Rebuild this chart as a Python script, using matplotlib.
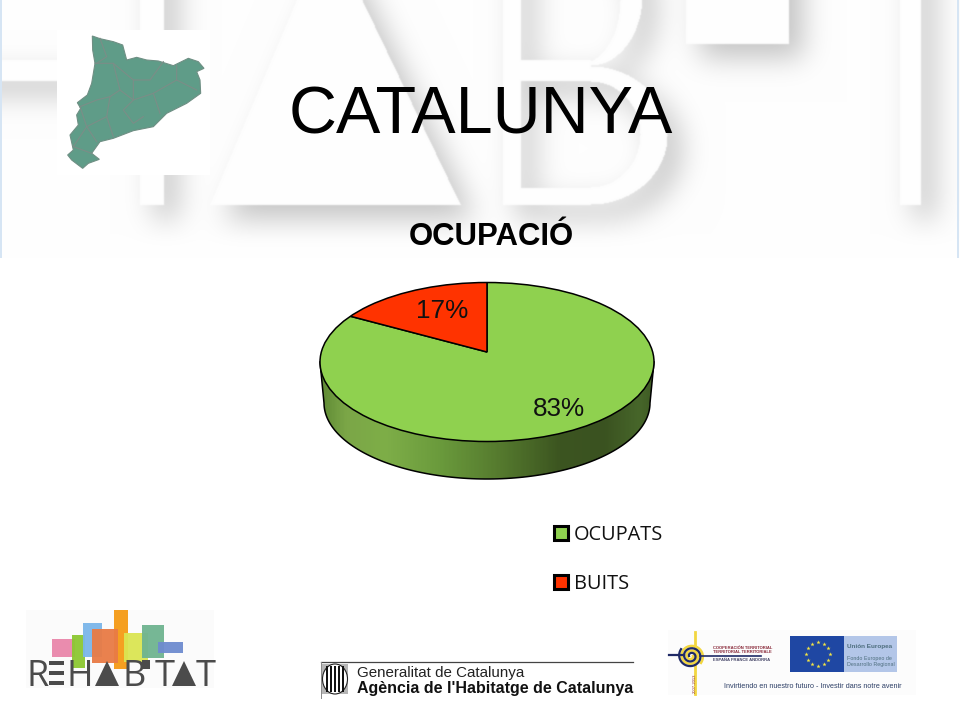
import numpy as np
import matplotlib
matplotlib.use("Agg")
import matplotlib.pyplot as plt
from matplotlib.patches import Rectangle, Polygon, Circle, Patch, PathPatch, Ellipse
from matplotlib.path import Path
from matplotlib.colors import LinearSegmentedColormap

# ---- chart data ----
categories = ["OCUPATS", "BUITS"]
values = [83, 17]
colors = ["#8fd14f", "#ff3300"]
title = "CATALUNYA"
subtitle = "OCUPACIÓ"

SANS = "Liberation Sans"
W, H = 960, 720
fig = plt.figure(figsize=(9.6, 7.2), dpi=100, facecolor="white")

# ---- page in pixel coordinates ----
bg = fig.add_axes([0, 0, 1, 1], zorder=0)


def gauss_blur(a, sigma):
    r = int(3 * sigma)
    k = np.exp(-0.5 * (np.arange(-r, r + 1) / sigma) ** 2)
    k /= k.sum()
    a = np.apply_along_axis(lambda v: np.convolve(v, k, mode="same"), 0, a)
    a = np.apply_along_axis(lambda v: np.convolve(v, k, mode="same"), 1, a)
    return a


def watermark():
    pad = 100
    yy, xx = np.mgrid[-pad:258 + pad, -pad:960 + pad].astype(float)
    m = np.zeros_like(xx, bool)
    # H
    m |= (xx >= 140) & (xx <= 163) & (yy <= 204)
    m |= (xx <= 140) & (yy >= 60) & (yy <= 80)
    # A
    left = 293 - (yy - 8) * (83 / 196)
    right = 362 + yy * (98 / 204)
    m |= (xx >= left) & (xx <= right) & (yy <= 204)
    # B
    b_up = ((xx >= 503) & (xx <= 590) & (yy <= 65)) | (((xx - 590) / 52) ** 2 + ((yy + 5) / 70) ** 2 <= 1)
    b_lo = ((xx >= 503) & (xx <= 590) & (yy >= 60) & (yy <= 204)) | (((xx - 590) / 77) ** 2 + ((yy - 135) / 69) ** 2 <= 1)
    c_up = ((xx >= 521) & (xx <= 580) & (yy <= 63)) | (((xx - 580) / 40) ** 2 + (yy / 63) ** 2 <= 1)
    c_lo = ((xx >= 521) & (xx <= 590) & (yy >= 81) & (yy <= 187)) | (((xx - 590) / 50) ** 2 + ((yy - 134) / 53) ** 2 <= 1)
    m |= (b_up & ~c_up) | (b_lo & ~c_lo)
    # T bar and I
    m |= (xx >= 686) & (xx <= 788) & (yy <= 43)
    m |= (xx >= 900) & (xx <= 920) & (yy <= 204)
    dark = gauss_blur(np.roll(np.roll(m.astype(float), 14, axis=0), 14, axis=1), 14)
    img = 254 - 58 * dark
    img[m] = 254
    img = gauss_blur(img, 0.7)
    img = img[pad:258 + pad, pad:960 + pad]
    # fade out towards the lower edge
    fade = np.clip((258 - np.arange(258)) / 25, 0, 1)[:, None]
    img = 255 - (255 - img) * fade
    rgb = np.dstack([img, img, img]) / 255
    rgb[:, 0:2] = [0.84, 0.90, 0.96]
    rgb[:, 957:959] = [0.84, 0.90, 0.96]
    return rgb


bg.imshow(watermark(), extent=(0, 960, 258, 0), aspect="auto", interpolation="bilinear", zorder=0)
bg.set_xlim(0, W)
bg.set_ylim(H, 0)
bg.axis("off")

bg.text(481, 133, title, family=SANS, fontsize=47.9, ha="center", va="baseline", color="black", zorder=5)
bg.text(491, 245, subtitle, family=SANS, fontsize=22.4, fontweight="bold", ha="center", va="baseline", color="black", zorder=5)

# ---- map of Catalonia (decoration) ----
bg.add_patch(Rectangle((57, 30), 153, 145, fc="white", ec="none", zorder=1))
map_outline = [(277, 108), (300, 116), (340, 125), (368, 135), (380, 180), (410, 172), (440, 180), (475, 183),
               (520, 197), (565, 175), (595, 185), (612, 205), (590, 215), (600, 240), (602, 280), (560, 310),
               (500, 340), (460, 380), (400, 392), (340, 415), (300, 425), (275, 460), (298, 478), (265, 490),
               (248, 505), (215, 480), (203, 465), (220, 450), (210, 405), (235, 375), (230, 345), (242, 325),
               (232, 308), (262, 285), (275, 250), (285, 190), (278, 150)]
bg.add_patch(Polygon([(x / 3, y / 3) for x, y in map_outline], fc="#5f9c88", ec="#6f8f84", lw=0.8, zorder=2))
map_borders = [
    [(285, 190), (340, 190), (360, 270), (330, 290), (290, 300), (240, 320)],
    [(340, 190), (400, 240), (450, 240), (490, 185)],
    [(360, 270), (400, 300), (460, 280), (530, 240), (530, 197)],
    [(530, 240), (590, 270)],
    [(400, 240), (400, 300), (370, 330), (400, 370), (430, 350)],
    [(460, 280), (480, 340)],
    [(330, 290), (320, 350), (260, 380), (290, 425)],
    [(320, 350), (340, 410)],
    [(240, 320), (260, 380), (220, 440), (275, 460)],
    [(300, 115), (320, 170), (290, 190)],
]
for seg in map_borders:
    bg.plot([p[0] / 3 for p in seg], [p[1] / 3 for p in seg], color="#7c8d87", lw=0.8, zorder=3)

# ---- rehabitat logo (decoration) ----
logo_rects = [(112, 117, 68, 53, "#ea86aa"), (170, 105, 40, 100, "#8cc832"), (204, 70, 58, 100, "#7ab6ea"),
              (298, 30, 42, 178, "#f59a15"), (232, 88, 78, 100, "#e97b45"), (328, 100, 70, 85, "#dbe552"),
              (380, 74, 68, 101, "#6fb490"), (428, 126, 75, 34, "#6e8bcf")]
bg.add_patch(Rectangle((26, 610), 188, 78, fc="#fbfbfb", ec="none", zorder=1))
for x, y, w, h, c in logo_rects:
    bg.add_patch(Rectangle((15 + x / 3, 600 + y / 3), w / 3, h / 3, fc=c, ec="none", alpha=0.95, zorder=2))
LOGO_GRAY = "#4b4b4b"
for ch, x in [("R", 26), ("H", 66), ("B", 123), ("T", 155), ("T", 196)]:
    bg.text(x, 686, ch, family="Open Sans", fontsize=26, color=LOGO_GRAY, va="baseline", ha="left", zorder=4)
for y in (661, 671, 681):
    bg.add_patch(Rectangle((49, y), 15, 4, fc=LOGO_GRAY, ec="none", zorder=4))
for x0, x1 in ((95, 119), (172, 196)):
    bg.add_patch(Polygon([(x0, 686), (x1, 686), ((x0 + x1) / 2, 661)], fc=LOGO_GRAY, ec="none", zorder=4))
bg.add_patch(Rectangle((142, 660), 8, 9, fc=LOGO_GRAY, ec="none", zorder=4))

# ---- Generalitat logo (decoration) ----
bg.plot([321, 633], [662, 662], color="#444444", lw=0.9, zorder=3)
bg.plot([321, 321], [662, 698], color="#888888", lw=0.7, zorder=3)
bg.add_patch(Rectangle((322, 664), 26, 30, fc="#b5b5b5", ec="none", zorder=3))
bg.add_patch(Ellipse((335, 679), 25, 30, fc="white", ec="#222222", lw=0.8, zorder=4))
for x in (327, 331, 335, 339, 343):
    bg.add_patch(Rectangle((x - 1.2, 666), 2.4, 26, fc="#111111", ec="none", zorder=5))
bg.text(357, 677, "Generalitat de Catalunya", family=SANS, fontsize=10.9, color="#222222", va="baseline", zorder=4)
bg.text(357, 693, "Agència de l'Habitatge de Catalunya", family=SANS, fontsize=11.5, fontweight="bold",
        color="#111111", va="baseline", zorder=4)

# ---- EU logos (decoration) ----
bg.add_patch(Rectangle((668, 630), 248, 65, fc="#fcfcfc", ec="none", zorder=1))
bg.plot([695, 695], [632, 694], color="#f2d640", lw=2, zorder=3)
t = np.linspace(0, 4.2 * np.pi, 200)
r = 2 + 1.25 * t / 1.6
bg.plot(691 + r * np.cos(t), 656 + r * np.sin(t) * 0.95, color="#f2d640", lw=1.8, zorder=4)
bg.plot(691 - r * np.cos(t), 656 - r * np.sin(t) * 0.95, color="#1f2a66", lw=1.6, zorder=4)
bg.plot([669, 684], [655, 655], color="#1f2a66", lw=1.6, zorder=4)
bg.plot([700, 761], [656, 656], color="#1f2a66", lw=1.2, zorder=4)
bg.text(713, 649, "COOPERACIÓN TERRITORIAL", family=SANS, fontsize=3, fontweight="bold", color="#8a2a3a", zorder=4)
bg.text(713, 653, "TERRITORIAL TERRITORIALE", family=SANS, fontsize=3, fontweight="bold", color="#8a2a3a", zorder=4)
bg.text(713, 661, "ESPAÑA FRANCE ANDORRA", family=SANS, fontsize=3, fontweight="bold", color="#444466", zorder=4)
bg.text(695, 693, "2007-2013", family=SANS, fontsize=3, rotation=90, color="#8a2a3a", ha="center", va="bottom", zorder=4)
bg.add_patch(Rectangle((790, 636), 54, 36, fc="#1f47a3", ec="none", zorder=3))
bg.add_patch(Rectangle((844, 636), 53, 36, fc="#b3c6e8", ec="none", zorder=3))
ang = np.arange(12) * np.pi / 6
bg.plot(818 + 12 * np.cos(ang), 654 + 12 * np.sin(ang), ls="none", marker="*", ms=3.2, color="#f5e642", mew=0, zorder=4)
bg.text(847, 648, "Unión Europea", family=SANS, fontsize=4.6, fontweight="bold", color="#4f6f7f", va="baseline", zorder=4)
bg.text(847, 660, "Fondo Europeo de", family=SANS, fontsize=3.9, color="#4f6f7f", va="baseline", zorder=4)
bg.text(847, 666, "Desarrollo Regional", family=SANS, fontsize=3.9, color="#4f6f7f", va="baseline", zorder=4)
bg.text(724, 688, "Invirtiendo en nuestro futuro - Investir dans notre avenir", family=SANS, fontsize=5.2,
        color="#2d3f66", va="baseline", zorder=4)

# ---- 3D pie ----
CX, CY, RX, RY = 487, 362, 167, 79.5   # top face in pixels
APEX_Y = 352
px0, px1, py0, py1 = 300, 670, 270, 490
ax = fig.add_axes([px0 / W, 1 - py1 / H, (px1 - px0) / W, (py1 - py0) / H], zorder=2)
ax.patch.set_alpha(0)


def dx(px):
    return (px - CX) / RX


def dy(py):
    return (CY - py) / RY


wedges, _ = ax.pie(values, colors=colors, startangle=90, counterclock=False, radius=1.5,
                   center=(0, dy(APEX_Y)), wedgeprops=dict(edgecolor="black", linewidth=1.1), frame=False)
ax.set_aspect("auto")
ax.set_xlim(dx(px0), dx(px1))
ax.set_ylim(dy(py1), dy(py0))
ax.axis("off")

# top face: wedges cut by the ellipse of the rim
top = Circle((0, 0), 1, transform=ax.transData)
for w_ in wedges:
    w_.set_clip_on(True)
    w_.set_clip_path(top)
    w_.set_zorder(3)
ax.add_patch(Circle((0, 0), 1, fc="none", ec="black", lw=1.1, zorder=4))

# side wall with horizontal shading
b_cy, b_rx, b_ry = dy(403), 163 / RX, 76 / RY
th = np.linspace(np.pi, 2 * np.pi, 120)
side_pts = [(-1, 0)] + list(zip(b_rx * np.cos(th), b_cy + b_ry * np.sin(th))) + [(1, 0)]
side_path = Path(side_pts + [side_pts[0]], closed=True)
shade_x = [(320, "#5f8a35"), (345, "#7ba647"), (385, "#7eae48"), (440, "#6a9a3c"), (500, "#557a2e"),
           (560, "#3c5520"), (605, "#3a5220"), (640, "#47662a"), (654, "#3f5c24")]
cmap = LinearSegmentedColormap.from_list("side", [((p - 320) / 334, c) for p, c in shade_x])
im = ax.imshow(np.linspace(0, 1, 334)[None, :], cmap=cmap, aspect="auto", zorder=1,
               extent=(dx(320), dx(654), dy(482), dy(340)))
side = PathPatch(side_path, fc="none", ec="black", lw=1.1, zorder=2)
ax.add_patch(side)
im.set_clip_path(side)
ax.set_xlim(dx(px0), dx(px1))
ax.set_ylim(dy(py1), dy(py0))

label_pos = {"OCUPATS": (559, 409), "BUITS": (442, 311)}
for name, v in zip(categories, values):
    x, y = label_pos[name]
    ax.text(dx(x), dy(y), f"{v}%", family=SANS, fontsize=18.8, ha="center", va="center", color="#111111", zorder=6)

# ---- legend ----
handles = [Patch(fc=c, ec="black", lw=2.2) for c in colors]
fig.legend(handles, categories, loc="upper left", bbox_to_anchor=(554 / W, 1 - 525 / H), frameon=False,
           prop=dict(family="Open Sans", size=14.4), handlelength=0.7, handleheight=0.7, handletextpad=0.3,
           labelspacing=1.45, borderpad=0, borderaxespad=0, labelcolor="#111111")

fig.savefig("out.png", dpi=100)
